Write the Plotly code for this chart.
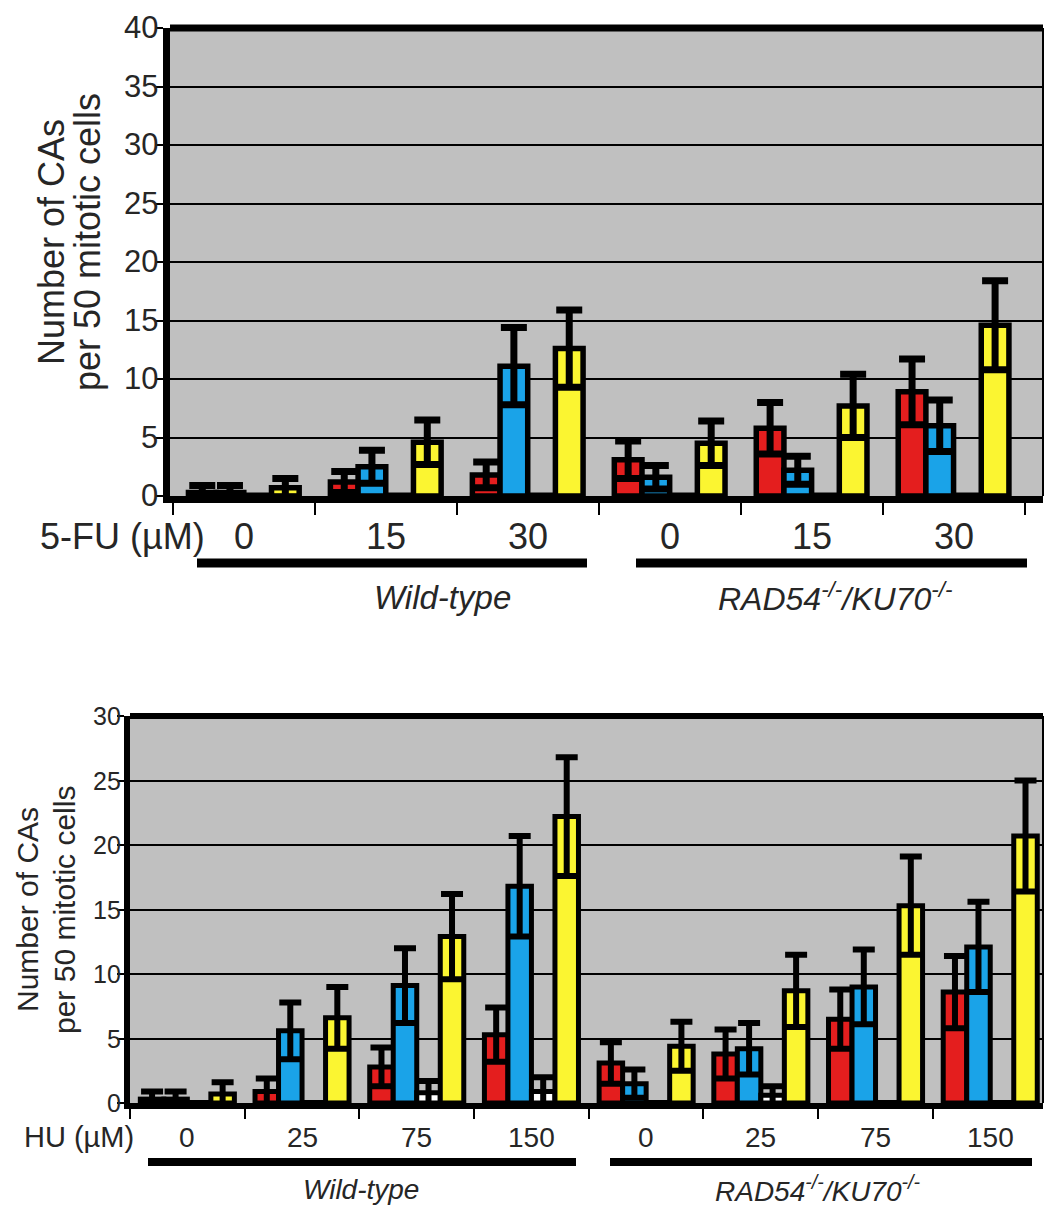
import plotly.graph_objects as go

# ---------------- data ----------------
fu_doses = ["0", "15", "30", "0", "15", "30"]
fu_red = [0.3, 1.2, 1.8, 3.1, 5.8, 8.9]
fu_red_err = [0.6, 0.9, 1.1, 1.6, 2.2, 2.8]
fu_blue = [0.3, 2.5, 11.1, 1.6, 2.2, 6.0]
fu_blue_err = [0.6, 1.4, 3.3, 1.0, 1.2, 2.2]
fu_white = [0, 0, 0, 0, 0, 0]
fu_white_err = [0, 0, 0, 0, 0, 0]
fu_yellow = [0.7, 4.6, 12.6, 4.5, 7.7, 14.6]
fu_yellow_err = [0.8, 1.9, 3.3, 1.9, 2.7, 3.8]
fu_yticks = [0, 5, 10, 15, 20, 25, 30, 35, 40]

hu_doses = ["0", "25", "75", "150", "0", "25", "75", "150"]
hu_red = [0.3, 0.9, 2.8, 5.3, 3.1, 3.8, 6.5, 8.6]
hu_red_err = [0.6, 1.0, 1.5, 2.1, 1.6, 1.9, 2.3, 2.8]
hu_blue = [0.3, 5.6, 9.1, 16.8, 1.5, 4.2, 9.0, 12.1]
hu_blue_err = [0.6, 2.2, 2.9, 3.9, 1.1, 2.0, 2.9, 3.5]
hu_white = [0, 0, 0.8, 0.9, 0, 0.6, 0, 0]
hu_white_err = [0, 0, 0.9, 1.1, 0, 0.7, 0, 0]
hu_yellow = [0.7, 6.6, 12.9, 22.2, 4.4, 8.7, 15.3, 20.7]
hu_yellow_err = [0.9, 2.4, 3.3, 4.6, 1.9, 2.8, 3.8, 4.3]
hu_yticks = [0, 5, 10, 15, 20, 25, 30]

genotypes = ["Wild-type", "RAD54<sup>-/-</sup>/KU70<sup>-/-</sup>"]
y_title_lines = ["Number of CAs", "per 50 mitotic cells"]

colors = ["#e41e1e", "#1aa3e8", "#ffffff", "#fbf531"]

W, H = 1045, 1210
FONT = "Liberation Sans, Arial, sans-serif"
TXT = "#262626"


def px(x):
    return x / W


def py(y):
    return 1 - y / H


fig = go.Figure()


def add_bars(vals_list, errs_list, xa, ya, bw, lw, ethick, ewidth):
    n = len(vals_list)
    for i, (vals, errs) in enumerate(zip(vals_list, errs_list)):
        fig.add_trace(go.Bar(
            x=list(range(len(vals))), y=vals,
            width=bw, offset=-n / 2 * bw + i * bw,
            marker=dict(color=colors[i], line=dict(color="black", width=lw)),
            error_y=dict(type="data", array=errs, visible=True, color="black",
                         thickness=ethick, width=ewidth),
            xaxis=xa, yaxis=ya, showlegend=False, hoverinfo="skip"))


add_bars([fu_red, fu_blue, fu_white, fu_yellow],
         [fu_red_err, fu_blue_err, fu_white_err, fu_yellow_err],
         "x", "y", 0.195, 5.5, 7, 13)
add_bars([hu_red, hu_blue, hu_white, hu_yellow],
         [hu_red_err, hu_blue_err, hu_white_err, hu_yellow_err],
         "x2", "y2", 0.205, 5, 6, 11)

# plot areas (pixels)
top = dict(l=170, r=1043, t=28, b=496)
bot = dict(l=130, r=1043, t=716, b=1103)

axis_common = dict(showline=True, linecolor="black", mirror=False)

fig.update_layout(
    width=W, height=H, margin=dict(l=0, r=0, t=0, b=0),
    paper_bgcolor="white", plot_bgcolor="#c0c0c0",
    barmode="overlay",
    font=dict(family=FONT, color=TXT),
    xaxis=dict(domain=[px(top["l"]), px(top["r"])], anchor="y",
               range=[-0.52, 5.63], tickvals=[i - 0.5 for i in range(7)],
               ticktext=[""] * 7, ticks="outside", ticklen=12, tickwidth=2,
               tickcolor="black", showgrid=False, zeroline=False,
               linewidth=7, **axis_common),
    yaxis=dict(domain=[py(top["b"]), py(top["t"])], anchor="x",
               range=[0, 40], tickvals=fu_yticks, showticklabels=False,
               ticks="outside", ticklen=8, tickwidth=2,
               tickcolor="black", showgrid=True, gridcolor="black", gridwidth=2,
               zeroline=False, linewidth=7, **axis_common),
    xaxis2=dict(domain=[px(bot["l"]), px(bot["r"])], anchor="y2",
                range=[-0.5, 7.46], tickvals=[i - 0.5 for i in range(9)],
                ticktext=[""] * 9, ticks="outside", ticklen=10, tickwidth=2,
                tickcolor="black", showgrid=False, zeroline=False,
                linewidth=6, **axis_common),
    yaxis2=dict(domain=[py(bot["b"]), py(bot["t"])], anchor="x2",
                range=[0, 30], tickvals=hu_yticks, showticklabels=False,
                ticks="outside", ticklen=7, tickwidth=2,
                tickcolor="black", showgrid=True, gridcolor="black", gridwidth=2,
                zeroline=False, linewidth=6, **axis_common),
)

shapes = []
# frame top / right
for p, tw, rw in [(top, 7, 2), (bot, 6, 2)]:
    shapes.append(dict(type="line", xref="paper", yref="paper",
                       x0=px(p["l"]), x1=px(p["r"]), y0=py(p["t"]), y1=py(p["t"]),
                       line=dict(color="black", width=tw)))
    shapes.append(dict(type="line", xref="paper", yref="paper",
                       x0=px(p["r"]), x1=px(p["r"]), y0=py(p["t"]), y1=py(p["b"]),
                       line=dict(color="black", width=rw)))
# genotype bars
for x0, x1, y, w in [(197, 587, 563, 9), (636, 1027, 563, 9),
                     (148, 576, 1162, 8), (610, 1032, 1162, 8)]:
    shapes.append(dict(type="line", xref="paper", yref="paper",
                       x0=px(x0), x1=px(x1), y0=py(y), y1=py(y),
                       line=dict(color="black", width=w)))
fig.update_layout(shapes=shapes)

ann = []
# y tick labels
for v in fu_yticks:
    ann.append(dict(x=px(160), xref="paper", y=v, yref="y", text=str(v),
                    showarrow=False, xanchor="right", yanchor="middle",
                    font=dict(size=31, color=TXT, family=FONT)))
for v in hu_yticks:
    ann.append(dict(x=px(123), xref="paper", y=v, yref="y2", text=str(v),
                    showarrow=False, xanchor="right", yanchor="middle",
                    font=dict(size=25, color=TXT, family=FONT)))
# dose tick labels
for i, d in enumerate(fu_doses):
    ann.append(dict(x=i, xref="x", y=py(537), yref="paper", text=d,
                    showarrow=False, font=dict(size=36, color=TXT, family=FONT),
                    xanchor="center", yanchor="middle"))
for i, d in enumerate(hu_doses):
    ann.append(dict(x=i, xref="x2", y=py(1137), yref="paper", text=d,
                    showarrow=False, font=dict(size=28, color=TXT, family=FONT),
                    xanchor="center", yanchor="middle"))
ann.append(dict(x=px(38), y=py(537), xref="paper", yref="paper", text="5-FU (µM)",
                showarrow=False, xanchor="left", yanchor="middle",
                font=dict(size=36, color=TXT, family=FONT)))
ann.append(dict(x=px(22), y=py(1137), xref="paper", yref="paper", text="HU (µM)",
                showarrow=False, xanchor="left", yanchor="middle",
                font=dict(size=29, color=TXT, family=FONT)))
# genotype labels
for x, y, t, s in [(442, 597, genotypes[0], 33), (835, 597, genotypes[1], 32),
                   (361, 1189, genotypes[0], 28), (818, 1189, genotypes[1], 28)]:
    ann.append(dict(x=px(x), y=py(y), xref="paper", yref="paper",
                    text="<i>" + t + "</i>", showarrow=False,
                    xanchor="center", yanchor="middle",
                    font=dict(size=s, color=TXT, family=FONT)))
# y titles (two lines each)
for (x1, x2, yc, s) in [(52, 88, 242, 36), (27, 64, 910, 30)]:
    for xx, line in zip((x1, x2), y_title_lines):
        ann.append(dict(x=px(xx), y=py(yc), xref="paper", yref="paper", text=line,
                        textangle=-90, showarrow=False, xanchor="center",
                        yanchor="middle",
                        font=dict(size=s, color=TXT, family=FONT)))
fig.update_layout(annotations=ann)

fig.write_html("out.html")
